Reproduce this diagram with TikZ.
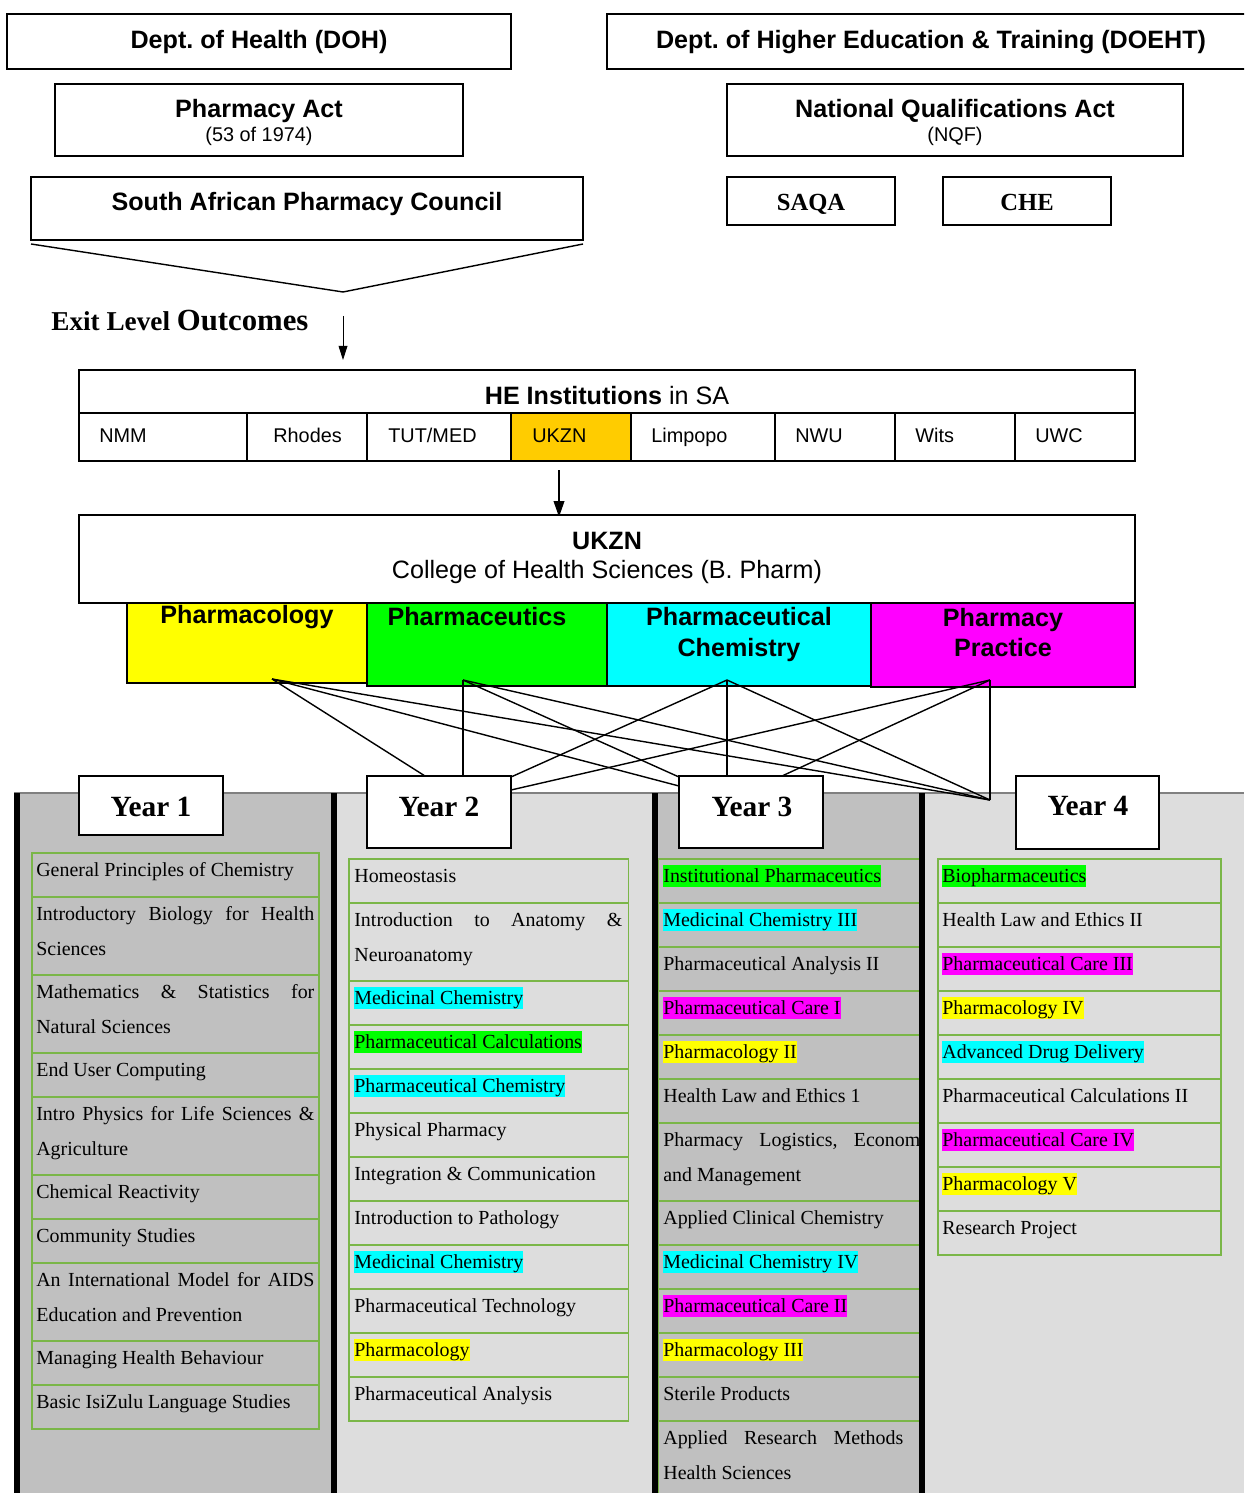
\documentclass[tikz,border=0pt]{standalone}
\usepackage{fontspec}
\setmainfont{Liberation Serif}
\setsansfont{Liberation Sans}
\usetikzlibrary{arrows.meta}
\frenchspacing

\definecolor{hlyellow}{HTML}{FFFF00}
\definecolor{hlgreen}{HTML}{00FF00}
\definecolor{hlcyan}{HTML}{00FFFF}
\definecolor{hlmagenta}{HTML}{FF00FF}
\definecolor{ukznorange}{HTML}{FFCC00}
\definecolor{cellgreen}{HTML}{7AB648}
\definecolor{coldark}{HTML}{C0C0C0}
\definecolor{collight}{HTML}{DDDDDD}
\definecolor{bandline}{HTML}{808080}

\newdimen\pxu \pxu=0.02cm
\newcommand{\hilite}[2]{{\fboxsep=0pt\colorbox{#1}{\rule[-0.216em]{0pt}{1.107em}#2}}}
\newcommand{\just}[2]{\makebox[#1\pxu][s]{#2}}

\tikzset{
  frame/.style={draw=black, line width=1pt},
  hdr/.style={font=\sffamily\bfseries\fontsize{14.3}{17}\selectfont, inner sep=0pt, anchor=base},
  subline/.style={font=\sffamily\fontsize{11.3}{13}\selectfont, inner sep=0pt, anchor=base},
  serifhdr/.style={font=\bfseries\fontsize{14}{17}\selectfont, inner sep=0pt, anchor=base},
  yearlbl/.style={font=\bfseries\fontsize{16.7}{20}\selectfont, inner sep=0pt, anchor=base},
  inst/.style={font=\sffamily\fontsize{11.3}{13}\selectfont, inner sep=0pt, anchor=base west},
  subj/.style={font=\fontsize{11.35}{13}\selectfont, inner sep=0pt, anchor=base west},
  cell/.style={draw=cellgreen, line width=0.9pt},
  link/.style={line width=0.8pt},
  yearbox/.style={draw=black, fill=white, line width=1.2pt},
}

\begin{document}
\begin{tikzpicture}[x=0.02cm, y=-0.02cm]
		\useasboundingbox (0,0) rectangle (1244,1493);
		\clip (0,0) rectangle (1244,1493);
		
		%%%%% REGULATORS %%%%%
		
		\draw[frame] (7,14) rectangle (511,69);
		\node[hdr] (doh) at (259,49) {Dept. of Health (DOH)};
		\draw[frame] (607,14) rectangle (1260,69);
		\node[hdr] (doeht) at (931,49) {Dept. of Higher Education \& Training (DOEHT)};
		
		\draw[frame] (55,84) rectangle (463,156);
		\node[hdr] (pact) at (259,118) {Pharmacy Act};
		\node[subline] (pactno) at (259,142) {(53 of 1974)};
		\draw[frame] (727,84) rectangle (1183,156);
		\node[hdr] (nqa) at (955,118) {National Qualifications Act};
		\node[subline] (nqf) at (955,142) {(NQF)};
		
		\draw[frame] (31,177) rectangle (583,240);
		\node[hdr] (sapc) at (307,211) {South African Pharmacy Council};
		\draw[frame] (727,177) rectangle (895,225);
		\node[serifhdr] (saqa) at (811,211) {SAQA};
		\draw[frame] (943,177) rectangle (1111,225);
		\node[serifhdr] (che) at (1027,211) {CHE};
		
		\draw[line width=0.8pt] (31,244) -- (343,292) -- (583,244);
		\node[anchor=base west, inner sep=0pt, font=\bfseries] (exit) at (51,331)
			{{\fontsize{15.5}{18}\selectfont Exit Level }{\fontsize{17.5}{20}\selectfont Outcomes}};
		\coordinate (exitfrom) at (343,316);
		\coordinate (exitto) at (343,360);
		\draw[-{Triangle[length=8pt,width=5pt]}, line width=0.5pt] (exitfrom) -- (exitto);
		
		%%%%% INSTITUTIONS %%%%%
		
		\fill[ukznorange] (511,413) rectangle (631,461);
		\draw[frame] (79,370) rectangle (1135,461);
		\draw[frame] (79,413) -- (1135,413);
		\foreach \xx in {247,367,511,631,775,895,1015}
			\draw[frame] (\xx,413) -- (\xx,461);
		\node[hdr] (he) at (607,404) {HE Institutions \mdseries in SA};
		\node[inst] (nmm) at (99,442) {NMM};
		\node[inst] (rhodes) at (273,442) {Rhodes};
		\node[inst] (tut) at (388,442) {TUT/MED};
		\node[inst] (ukzncell) at (532,442) {UKZN};
		\node[inst] (limpopo) at (651,442) {Limpopo};
		\node[inst] (nwu) at (795,442) {NWU};
		\node[inst] (wits) at (915,442) {Wits};
		\node[inst] (uwc) at (1035,442) {UWC};
		
		\coordinate (hebottom) at (559,470);
		\coordinate (ukzntop) at (559,517);
		\draw[-{Triangle[length=9pt,width=6pt]}, line width=1pt] (hebottom) -- (ukzntop);
		
		%%%%% DISCIPLINES %%%%%
		
		\draw[frame, fill=hlyellow] (127,603) rectangle (367,683);
		\draw[frame, fill=hlgreen] (367,603) rectangle (607,686);
		\draw[frame, fill=hlcyan] (607,603) rectangle (871,686);
		\draw[frame, fill=hlmagenta] (871,603) rectangle (1135,687);
		\draw[frame, fill=white] (79,515) rectangle (1135,603);
		\node[hdr] (ukzn) at (607,549) {UKZN};
		\node[hdr, font=\sffamily\fontsize{14.3}{17}\selectfont] (chs) at (607,578) {College of Health Sciences (B. Pharm)};
		\node[hdr] (pcol) at (247,623) {Pharmacology};
		\node[hdr] (pceu) at (477,625) {Pharmaceutics};
		\node[hdr] (pchm) at (739,625) {Pharmaceutical};
		\node[hdr] (pchm2) at (739,656) {Chemistry};
		\node[hdr] (ppra) at (1003,626) {Pharmacy};
		\node[hdr] (ppra2) at (1003,656) {Practice};
		
		%%%%% YEARS %%%%%
		
		\fill[coldark] (14,793) rectangle (331,1493);
		\fill[collight] (331,793) rectangle (652,1493);
		\fill[coldark] (652,793) rectangle (919,1493);
		\fill[collight] (919,793) rectangle (1244,1493);
		\draw[bandline, line width=1.2pt] (14,793) -- (1244,793);
		
		\coordinate (fpcol) at (272,679);
		\coordinate (fpceu) at (463,680);
		\coordinate (fpchm) at (727,680);
		\coordinate (fppra) at (990,680);
		\coordinate (y2a) at (425,776);
		\coordinate (y2b) at (463,776);
		\coordinate (y2c) at (511,777);
		\coordinate (y2d) at (511,790);
		\coordinate (y3a) at (679,786);
		\coordinate (y3b) at (679,777);
		\coordinate (y3c) at (727,776);
		\coordinate (y3d) at (782,776);
		\coordinate (y4) at (990,800);
		
		\draw[link] (fpcol) -- (y2a);
		\draw[link] (fpcol) -- (y3a);
		\draw[link] (fpcol) -- (y4);
		\draw[link] (fpceu) -- (y2b);
		\draw[link] (fpceu) -- (y3b);
		\draw[link] (fpceu) -- (y4);
		\draw[link] (fpchm) -- (y2c);
		\draw[link] (fpchm) -- (y3c);
		\draw[link] (fpchm) -- (y4);
		\draw[link] (fppra) -- (y2d);
		\draw[link] (fppra) -- (y3d);
		\draw[link] (fppra) -- (y4);
		
		\draw[yearbox] (79,776) rectangle (223,835);
		\node[yearlbl] (year1) at (151,816) {Year 1};
		\draw[yearbox] (367,776) rectangle (511,848);
		\node[yearlbl] (year2) at (439,816) {Year 2};
		\draw[yearbox] (679,776) rectangle (823,848);
		\node[yearlbl] (year3) at (752,816) {Year 3};
		\draw[yearbox] (1016,776) rectangle (1159,849);
		\node[yearlbl] (year4) at (1088,815) {Year 4};
		
		% year 1
		\draw[cell] (32,853) rectangle (319,1429);
		\foreach \yy in {897,975,1053,1097,1175,1219,1263,1341,1385}
			\draw[cell] (32,\yy) -- (319,\yy);
		\node[subj] (y1a) at (36,876.5) {General Principles of Chemistry};
		\node[subj] (y1b) at (36,920.5) {\just{278}{Introductory Biology for Health}};
		\node[subj] (y1b2) at (36,955) {Sciences};
		\node[subj] (y1c) at (36,998.5) {\just{278}{Mathematics \& Statistics for}};
		\node[subj] (y1c2) at (36,1033) {Natural Sciences};
		\node[subj] (y1d) at (36,1076.5) {End User Computing};
		\node[subj] (y1e) at (36,1120.5) {\just{278}{Intro Physics for Life Sciences \&}};
		\node[subj] (y1e2) at (36,1155) {Agriculture};
		\node[subj] (y1f) at (36,1198.5) {Chemical Reactivity};
		\node[subj] (y1g) at (36,1242.5) {Community Studies};
		\node[subj] (y1h) at (36,1286.5) {\just{278}{An International Model for AIDS}};
		\node[subj] (y1h2) at (36,1321) {Education and Prevention};
		\node[subj] (y1i) at (36,1364.5) {Managing Health Behaviour};
		\node[subj] (y1j) at (36,1408.5) {Basic IsiZulu Language Studies};
		
		% year 2
		\draw[cell] (349,859) rectangle (628.5,1421);
		\foreach \yy in {903,981,1025,1069,1113,1157,1201,1245,1289,1333,1377}
			\draw[cell] (349,\yy) -- (628.5,\yy);
		\node[subj] (y2s1) at (354,882.5) {Homeostasis};
		\node[subj] (y2s2) at (354,926.5) {\just{268}{Introduction to Anatomy \&}};
		\node[subj] (y2s2b) at (354,961) {Neuroanatomy};
		\node[subj] (y2s3) at (354,1004.5) {\hilite{hlcyan}{Medicinal Chemistry}};
		\node[subj] (y2s4) at (354,1048.5) {\hilite{hlgreen}{Pharmaceutical Calculations}};
		\node[subj] (y2s5) at (354,1092.5) {\hilite{hlcyan}{Pharmaceutical Chemistry}};
		\node[subj] (y2s6) at (354,1136.5) {Physical Pharmacy};
		\node[subj] (y2s7) at (354,1180.5) {Integration \& Communication};
		\node[subj] (y2s8) at (354,1224.5) {Introduction to Pathology};
		\node[subj] (y2s9) at (354,1268.5) {\hilite{hlcyan}{Medicinal Chemistry}};
		\node[subj] (y2s10) at (354,1312.5) {Pharmaceutical Technology};
		\node[subj] (y2s11) at (354,1356.5) {\hilite{hlyellow}{Pharmacology}};
		\node[subj] (y2s12) at (354,1400.5) {Pharmaceutical Analysis};
		
		% year 3
		\draw[cell] (925,859) -- (658.5,859) -- (658.5,1499);
		\foreach \yy in {903,947,991,1035,1079,1123,1201,1245,1289,1333,1377,1421}
			\draw[cell] (658.5,\yy) -- (925,\yy);
		\node[subj] (y3s1) at (663,882.5) {\hilite{hlgreen}{Institutional Pharmaceutics}};
		\node[subj] (y3s2) at (663,926.5) {\hilite{hlcyan}{Medicinal Chemistry III}};
		\node[subj] (y3s3) at (663,970.5) {Pharmaceutical Analysis II};
		\node[subj] (y3s4) at (663,1014.5) {\hilite{hlmagenta}{Pharmaceutical Care I}};
		\node[subj] (y3s5) at (663,1058.5) {\hilite{hlyellow}{Pharmacology II}};
		\node[subj] (y3s6) at (663,1102.5) {Health Law and Ethics 1};
		\node[subj] (y3s7) at (663,1146.5) {\just{257}{Pharmacy Logistics, Econom}};
		\node[subj] (y3s7b) at (663,1181) {and Management};
		\node[subj] (y3s8) at (663,1224.5) {Applied Clinical Chemistry};
		\node[subj] (y3s9) at (663,1268.5) {\hilite{hlcyan}{Medicinal Chemistry IV}};
		\node[subj] (y3s10) at (663,1312.5) {\hilite{hlmagenta}{Pharmaceutical Care II}};
		\node[subj] (y3s11) at (663,1356.5) {\hilite{hlyellow}{Pharmacology III}};
		\node[subj] (y3s12) at (663,1400.5) {Sterile Products};
		\node[subj] (y3s13) at (663,1444.5) {\just{240}{Applied Research Methods}};
		\node[subj] (y3s13b) at (663,1479) {Health Sciences};
		
		% year 4
		\draw[cell] (938,859) rectangle (1221,1255);
		\foreach \yy in {903,947,991,1035,1079,1123,1167,1211}
			\draw[cell] (938,\yy) -- (1221,\yy);
		\node[subj] (y4s1) at (942,882.5) {\hilite{hlgreen}{Biopharmaceutics}};
		\node[subj] (y4s2) at (942,926.5) {Health Law and Ethics II};
		\node[subj] (y4s3) at (942,970.5) {\hilite{hlmagenta}{Pharmaceutical Care III}};
		\node[subj] (y4s4) at (942,1014.5) {\hilite{hlyellow}{Pharmacology IV}};
		\node[subj] (y4s5) at (942,1058.5) {\hilite{hlcyan}{Advanced Drug Delivery}};
		\node[subj] (y4s6) at (942,1102.5) {Pharmaceutical Calculations II};
		\node[subj] (y4s7) at (942,1146.5) {\hilite{hlmagenta}{Pharmaceutical Care IV}};
		\node[subj] (y4s8) at (942,1190.5) {\hilite{hlyellow}{Pharmacology V}};
		\node[subj] (y4s9) at (942,1234.5) {Research Project};
		
		% column bars
		\fill[black] (14,793) rectangle (20,1493);
		\fill[black] (331,793) rectangle (337,1493);
		\fill[black] (652,793) rectangle (658,1493);
		\fill[black] (919,793) rectangle (925,1493);
		
	\end{tikzpicture}
\end{document}
